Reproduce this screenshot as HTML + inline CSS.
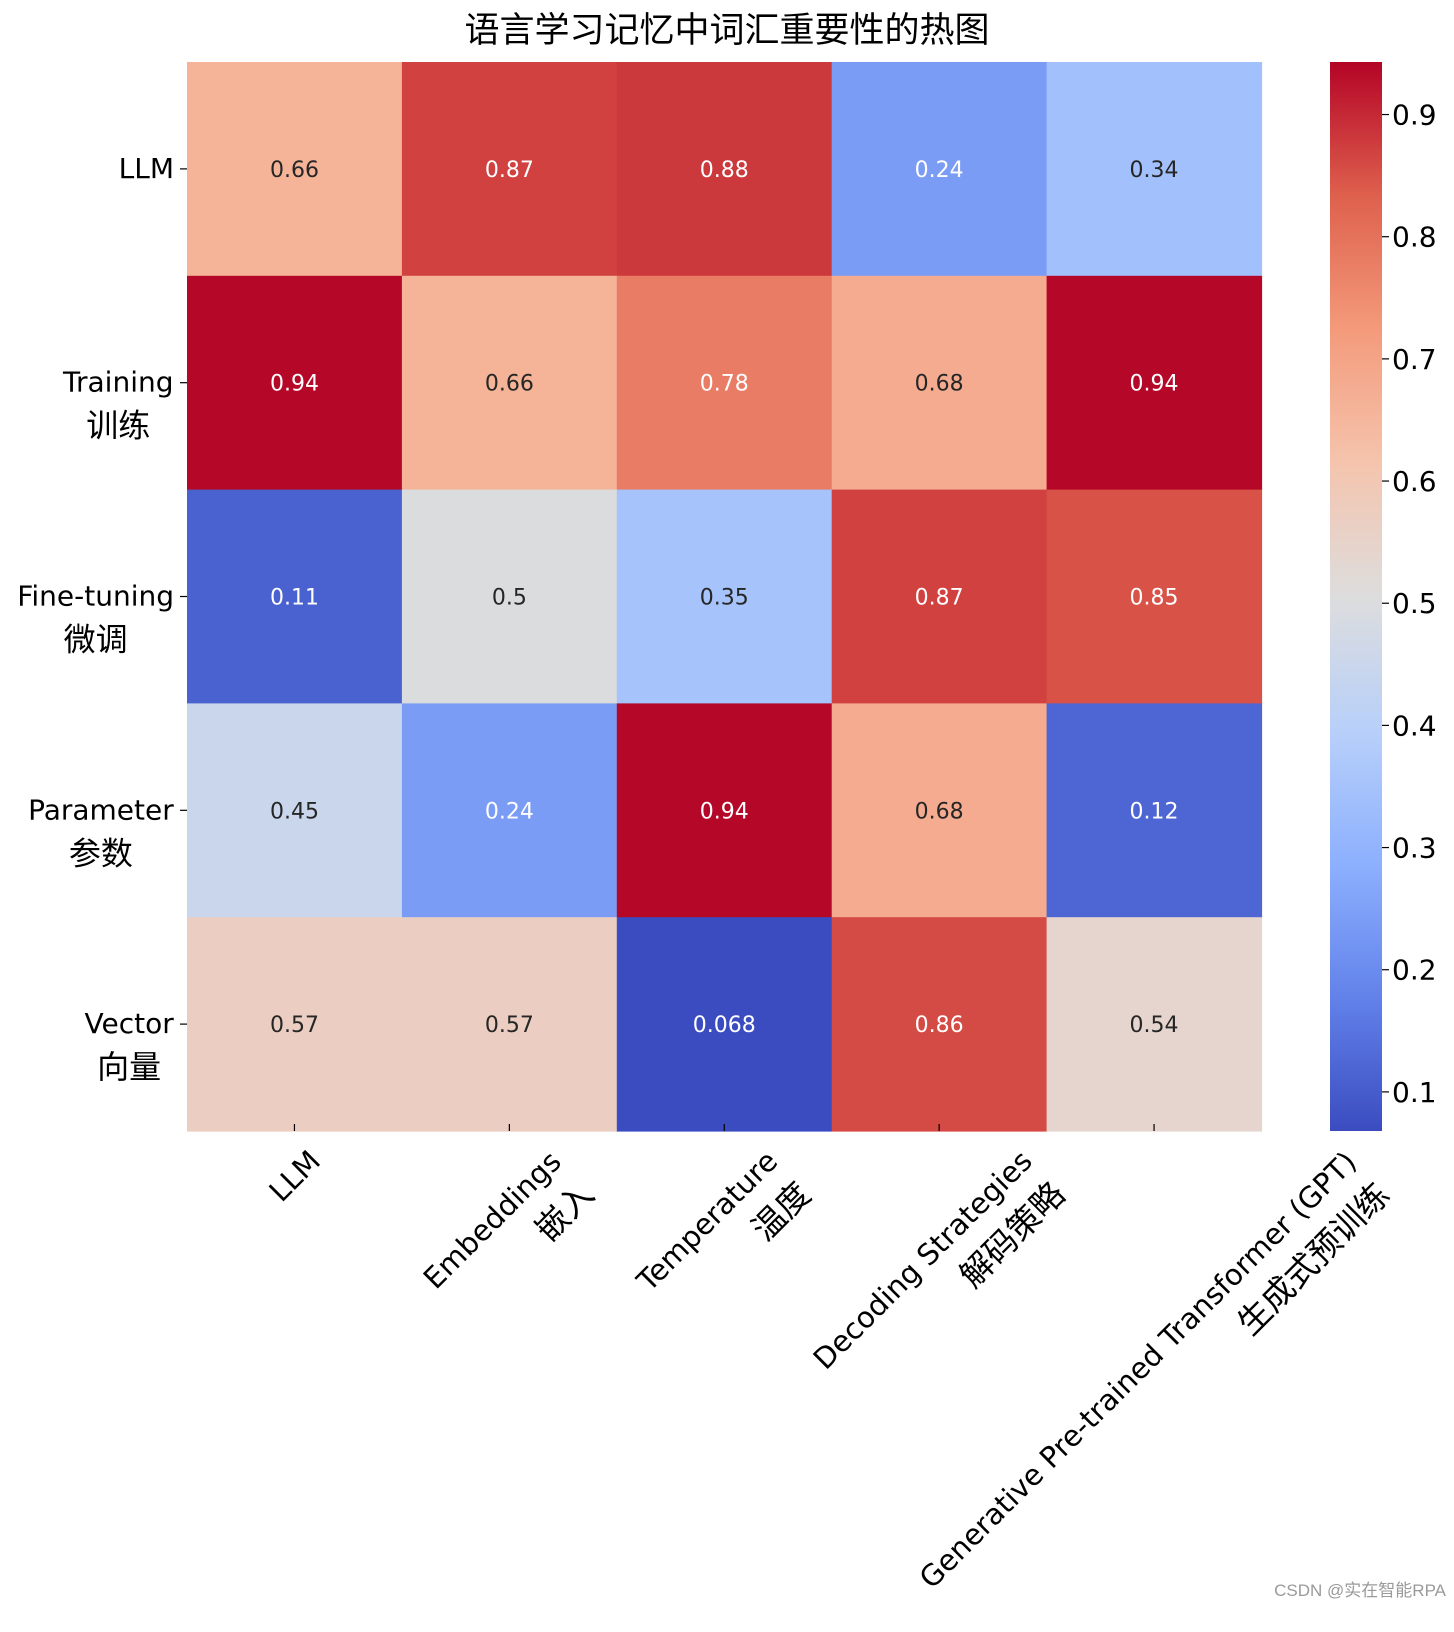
<!DOCTYPE html>
<html><head><meta charset="utf-8">
<style>
html,body{margin:0;padding:0;background:#fff;}
body{width:1454px;height:1600px;position:relative;overflow:hidden;font-family:"DejaVu Sans","Liberation Sans","Noto Sans CJK SC",sans-serif;}
svg{position:absolute;left:0;top:0;}
.xl{position:absolute;white-space:nowrap;text-align:right;font-size:29px;line-height:46px;color:#000;transform-origin:center center;}
.xl .cjk{font-size:33px;}
</style></head>
<body>
<svg id="chart" width="1454" height="1600"></svg>
<div id="xlabels"></div>
<div style="position:absolute;right:8px;top:1576px;font-size:17px;color:#9a9a9a;font-family:'Liberation Sans','Noto Sans CJK SC',sans-serif;">CSDN @实在智能RPA</div>
<script>
const rowLabels=[["LLM"],["Training","训练"],["Fine-tuning","微调"],["Parameter","参数"],["Vector","向量"]];
const colLabels=[["LLM"],["Embeddings","嵌入"],["Temperature","温度"],["Decoding Strategies","解码策略"],["Generative Pre-trained Transformer (GPT)","生成式预训练"]];
const row0=[0.66,0.87,0.88,0.24,0.34];
const row1=[0.94,0.66,0.78,0.68,0.94];
const row2=[0.11,0.5,0.35,0.87,0.85];
const row3=[0.45,0.24,0.94,0.68,0.12];
const row4=[0.57,0.57,0.068,0.86,0.54];
const values=[row0,row1,row2,row3,row4];
const cbTicks=[0.1,0.2,0.3,0.4,0.5,0.6,0.7,0.8,0.9];
const vmin=0.068, vmax=0.943;

const L=187,T=62,CW=214.9,RH=213.8;
const CBX=1330,CBW=52,CBT=62,CBB=1131;
const NS="http://www.w3.org/2000/svg";
const svg=document.getElementById('chart');
const cm=[[59,76,192],[98,130,234],[141,176,254],[184,208,249],[221,221,221],[245,196,173],[244,154,123],[222,96,77],[180,4,38]];
function color(v){let t=(v-vmin)/(vmax-vmin);t=Math.max(0,Math.min(1,t));let p=t*8,i=Math.min(7,Math.floor(p)),f=p-i;
 const c=cm[i].map((a,k)=>Math.round(a+(cm[i+1][k]-a)*f));return `rgb(${c})`;}
function lum(v){let t=(v-vmin)/(vmax-vmin);return (t>0.72||t<0.3);}
function xs(j){return L+j*CW;}
function ys(i){return T+i*RH;}
function cy(v){return CBB-(v-vmin)/(vmax-vmin)*(CBB-CBT);}
function el(tag,attrs){const e=document.createElementNS(NS,tag);for(const k in attrs)e.setAttribute(k,attrs[k]);svg.appendChild(e);return e;}

const title=el('text',{x:727,y:42,'text-anchor':'middle','font-size':'35','font-family':'"Liberation Sans","Noto Sans CJK SC",sans-serif'});
title.textContent='语言学习记忆中词汇重要性的热图';



values.forEach((row,i)=>row.forEach((v,j)=>{
 const r=el('rect',{x:xs(j),y:ys(i),width:CW+0.6,height:RH+0.6,fill:color(v)});
 
 
 const t=el('text',{x:xs(j)+CW/2,y:ys(i)+RH/2+8,'text-anchor':'middle','font-size':'22',fill:lum(v)?'#fff':'#262626'});
 t.textContent=String(v);
 
 
}));

rowLabels.forEach((lab,i)=>{
 const y=ys(i)+RH/2;
 el('line',{x1:L-7,x2:L,y1:y,y2:y,stroke:'#000','stroke-width':1.2});
 const t=el('text',{'text-anchor':'middle','font-family':'"DejaVu Sans","Noto Sans CJK SC",sans-serif'});
 
 
 lab.forEach((s,k)=>{const ts=document.createElementNS(NS,'tspan');ts.setAttribute('x',0);ts.setAttribute('y',y+9+k*45);ts.setAttribute('font-size',k?'32':'28');ts.textContent=s;t.appendChild(ts);});
 svg.appendChild(t);
 const w=t.getBBox().width; const cx=L-13-w/2;
 t.querySelectorAll('tspan').forEach(ts=>ts.setAttribute('x',cx));
});

colLabels.forEach((lab,j)=>{
 const x=xs(j)+CW/2;
 el('line',{x1:x,x2:x,y1:CBB-7,y2:CBB,stroke:'#000','stroke-width':1.2});
 const d=document.createElement('div');
 d.className='xl';
 
 
 d.innerHTML=lab.map((s,k)=>k?'<span class="cjk">'+s+'</span>':s).join('<br>');
 document.getElementById('xlabels').appendChild(d);
 const w=d.offsetWidth,h=d.offsetHeight;
 const W=(w+h)/Math.SQRT2;
 d.style.left=(x-w/2)+'px';
 d.style.top=(1140+W/2-h/2)+'px';
 d.style.transform='rotate(-45deg)';
});

const defs=el('defs',{});
const g=document.createElementNS(NS,'linearGradient');g.setAttribute('id','cbg');g.setAttribute('x1','0');g.setAttribute('x2','0');g.setAttribute('y1','1');g.setAttribute('y2','0');
cm.forEach((c,k)=>{const s=document.createElementNS(NS,'stop');s.setAttribute('offset',k/8);s.setAttribute('stop-color',`rgb(${c})`);g.appendChild(s);});
defs.appendChild(g);
const cb=el('rect',{x:CBX,y:CBT,width:CBW,height:CBB-CBT,fill:'url(#cbg)'});


cbTicks.forEach(v=>{
 const y=cy(v);
 el('line',{x1:CBX+CBW,x2:CBX+CBW+7,y1:y,y2:y,stroke:'#000','stroke-width':1.2});
 const t=el('text',{x:CBX+CBW+10,y:y+10,'font-size':'28'});
 t.textContent=String(v);
 
 
});
</script>
</body></html>
